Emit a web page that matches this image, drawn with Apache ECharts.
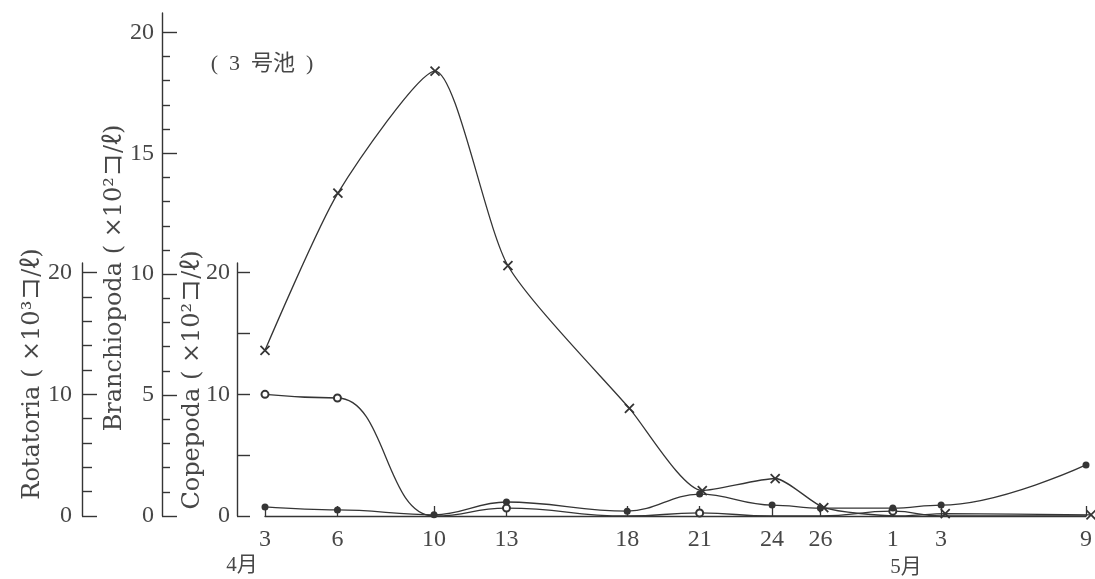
<!DOCTYPE html>
<html>
<head>
<meta charset="utf-8">
<script src="https://cdn.jsdelivr.net/npm/echarts@6/dist/echarts.min.js"></script>
<style>
  html, body { margin: 0; padding: 0; background: #ffffff; }
  #chart { width: 1095px; height: 579px; }
</style>
</head>
<body>
<div id="chart"></div>
<script>
// Sampling days on the plot's day scale (Apr 3 … May 9) and their printed labels
const sampleDays = [3, 6, 10, 13, 18, 21, 24, 26, 29, 31, 37];
const dayLabels  = ['3', '6', '10', '13', '18', '21', '24', '26', '1', '3', '9'];

// Densities read for each sampling day
const branchiopoda = [6.85, 13.35, 18.4, 10.35, 4.45, 1.05, 1.55, 0.35, 0, 0.1, 0.05]; // ×10² /ℓ
const rotatoria    = [10.0, 9.7, 0, 0.65, 0, 0.25, 0, 0, 0.4, 0, 0];                   // ×10³ /ℓ
const copepoda     = [0.75, 0.5, 0.1, 1.15, 0.4, 1.8, 0.9, 0.65, 0.65, 0.9, 4.2];       // ×10² /ℓ

// Tick values of the three vertical scales
const branchioLabels = [0, 5, 10, 15, 20];
const branchioMinor  = [1, 2, 3, 4, 6, 7, 8, 9, 11, 12, 13, 14, 16, 17, 18, 19];
const rotatLabels    = [0, 10, 20];
const rotatMinor     = [2, 4, 6, 8, 12, 14, 16, 18];
const copeLabels     = [0, 10, 20];
const copeTicks      = [0, 5, 10, 15, 20];

const INK = '#353535';
const TEXT = '#474747';
const NUM_FONT = '"Liberation Serif", "Noto Sans CJK JP", serif';
const NAME_FONT = '"DejaVu Serif", "Noto Sans CJK JP", serif';

function pairs(vals) { return sampleDays.map((d, i) => [d, vals[i]]); }
function markerOrNone(shape) {
  return (val) => (val[1] === 0 ? 'none' : shape);
}

function yScale(gridIdx, offset, tickVals, labelVals, tickLen, labelMargin) {
  return {
    type: 'value', gridIndex: gridIdx, position: 'left', offset: offset,
    min: 0, max: 20.8,
    axisLine: { show: true, lineStyle: { color: INK, width: 1.4 } },
    axisTick: { show: true, inside: true, length: tickLen, customValues: tickVals,
                lineStyle: { color: INK, width: 1.4 } },
    axisLabel: { show: labelVals.length > 0, customValues: labelVals, margin: labelMargin,
                 color: TEXT, fontFamily: NUM_FONT, fontSize: 24 },
    splitLine: { show: false }
  };
}
function yMinor(gridIdx, offset, tickVals, tickLen) {
  return {
    type: 'value', gridIndex: gridIdx, position: 'left', offset: offset,
    min: 0, max: 20.8,
    axisLine: { show: false },
    axisTick: { show: true, inside: true, length: tickLen, customValues: tickVals,
                lineStyle: { color: INK, width: 1.4 } },
    axisLabel: { show: false },
    splitLine: { show: false }
  };
}

const chart = echarts.init(document.getElementById('chart'), null, { renderer: 'canvas' });

const xMark = 'path://M0,0L10,10M10,0L0,10';
const lineCommon = {
  type: 'line',
  lineStyle: { color: INK, width: 1.3 },
  emphasis: { disabled: true }
};

chart.setOption({
  animation: false,
  backgroundColor: '#ffffff',
  grid: [
    { left: 265, right: 4, top: 13, bottom: 63 },   // tall Branchiopoda scale
    { left: 265, right: 4, top: 263, bottom: 63 }   // Rotatoria / Copepoda scales
  ],
  xAxis: [
    { type: 'value', gridIndex: 0, min: 3, max: 37, show: false },
    {
      type: 'value', gridIndex: 1, min: 3, max: 37,
      axisLine: { show: true, lineStyle: { color: INK, width: 1.4 } },
      axisTick: { show: true, inside: true, length: 10, customValues: sampleDays,
                  lineStyle: { color: INK, width: 1.3 } },
      axisLabel: {
        customValues: sampleDays, margin: 12,
        color: TEXT, fontFamily: NUM_FONT, fontSize: 24,
        formatter: (v) => dayLabels[sampleDays.indexOf(v)]
      },
      splitLine: { show: false }
    }
  ],
  yAxis: [
    yScale(0, 103, branchioLabels, branchioLabels, 15, 8),
    yMinor(0, 103, branchioMinor, 8),
    yScale(1, 183, rotatLabels, rotatLabels, 15, 10),
    yMinor(1, 183, rotatMinor, 10),
    yScale(1, 28, copeTicks, copeLabels, 13, 7)
  ],
  series: [
    Object.assign({}, lineCommon, {
      name: 'Branchiopoda', xAxisIndex: 0, yAxisIndex: 0,
      data: pairs(branchiopoda), smooth: 0.22,
      symbol: markerOrNone(xMark), symbolSize: 9,
      itemStyle: { color: INK, borderColor: INK, borderWidth: 1.8 },
      z: 3
    }),
    Object.assign({}, lineCommon, {
      name: 'Rotatoria', xAxisIndex: 1, yAxisIndex: 2,
      data: pairs(rotatoria), smooth: 0.5, smoothMonotone: 'x',
      symbol: markerOrNone('emptyCircle'), symbolSize: 7,
      itemStyle: { color: INK, borderWidth: 1.4 },
      z: 4
    }),
    Object.assign({}, lineCommon, {
      name: 'Copepoda', xAxisIndex: 1, yAxisIndex: 4,
      data: pairs(copepoda), smooth: 0.4, smoothMonotone: 'x',
      symbol: 'circle', symbolSize: 7,
      itemStyle: { color: INK },
      z: 5
    })
  ],
  graphic: [
    { type: 'text', x: 262, y: 64,
      style: { text: '(  3  号池  )', fill: TEXT, font: '22px "Liberation Serif", "Noto Sans CJK JP"',
               align: 'center', verticalAlign: 'middle' } },
    { type: 'text', x: 242, y: 565,
      style: { text: '4月', fill: TEXT, font: '21px "Liberation Serif", "Noto Sans CJK JP"',
               align: 'center', verticalAlign: 'middle' } },
    { type: 'text', x: 906, y: 567,
      style: { text: '5月', fill: TEXT, font: '21px "Liberation Serif", "Noto Sans CJK JP"',
               align: 'center', verticalAlign: 'middle' } },
    { type: 'text', x: 33, y: 374, rotation: Math.PI / 2,
      style: { text: 'Rotatoria ( ×10³コ/ℓ)', fill: TEXT, font: '24px ' + NAME_FONT,
               align: 'center', verticalAlign: 'middle' } },
    { type: 'text', x: 115, y: 278, rotation: Math.PI / 2,
      style: { text: 'Branchiopoda ( ×10²コ/ℓ)', fill: TEXT, font: '24px ' + NAME_FONT,
               align: 'center', verticalAlign: 'middle' } },
    { type: 'text', x: 193, y: 380, rotation: Math.PI / 2,
      style: { text: 'Copepoda ( ×10²コ/ℓ)', fill: TEXT, font: '24px ' + NAME_FONT,
               align: 'center', verticalAlign: 'middle' } }
  ]
});
</script>
</body>
</html>
